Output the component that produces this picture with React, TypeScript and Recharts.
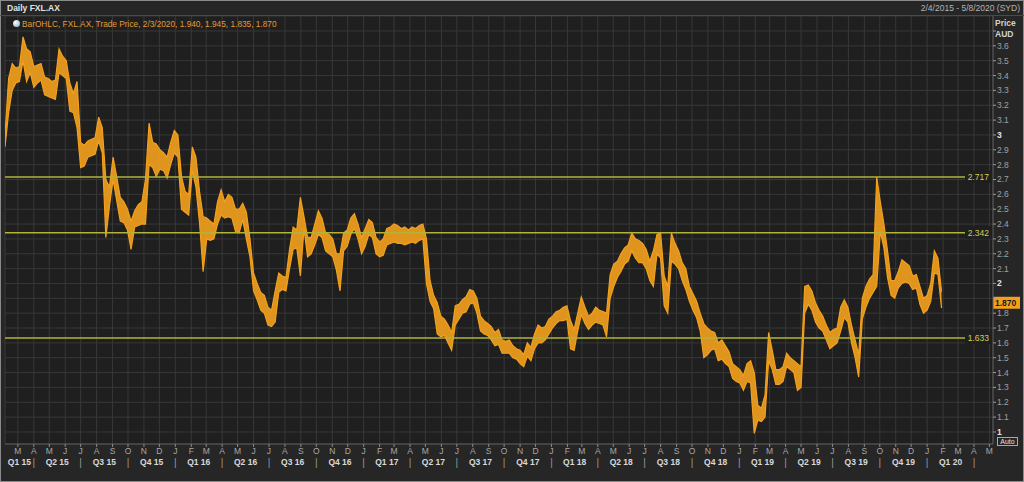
import React from 'react';
import { ComposedChart, Area, XAxis, YAxis, CartesianGrid, ReferenceLine } from 'recharts';

// weekly high / low of FXL.AX, first week starting 2015-02-04
const firstWeek = '2015-02-04';
const viewFrom = '2015-02-04';
const viewTo = '2020-05-08';

const weekHigh = [
  3.00, 3.38, 3.48, 3.45, 3.46, 3.66, 3.58, 3.56, 3.46, 3.47,
  3.48, 3.39, 3.38, 3.36, 3.37, 3.58, 3.53, 3.50, 3.35, 3.28,
  3.36, 2.95, 2.93, 2.96, 2.97, 2.98, 3.12, 3.05, 2.70, 2.65,
  2.85, 2.72, 2.58, 2.55, 2.50, 2.42, 2.49, 2.53, 2.55, 2.70,
  3.08, 2.95, 2.94, 2.90, 2.88, 2.85, 2.95, 3.03, 3.00, 2.72,
  2.62, 2.60, 2.92, 2.85, 2.62, 2.45, 2.44, 2.42, 2.40, 2.55,
  2.63, 2.55, 2.60, 2.58, 2.50, 2.50, 2.54, 2.48, 2.30, 2.07,
  2.00, 1.94, 1.92, 1.84, 1.82, 1.95, 2.07, 2.05, 2.04, 2.23,
  2.38, 2.36, 2.58, 2.45, 2.31, 2.31, 2.40, 2.49, 2.44, 2.34,
  2.33, 2.30, 2.20, 2.20, 2.34, 2.36, 2.44, 2.47, 2.40, 2.31,
  2.37, 2.43, 2.41, 2.31, 2.28, 2.30, 2.37, 2.38, 2.40, 2.39,
  2.37, 2.38, 2.36, 2.38, 2.37, 2.39, 2.40, 2.30, 2.02, 1.92,
  1.87, 1.78, 1.76, 1.72, 1.67, 1.85, 1.86, 1.89, 1.91, 1.96,
  1.95, 1.90, 1.78, 1.75, 1.73, 1.71, 1.67, 1.69, 1.62, 1.61,
  1.62, 1.58, 1.56, 1.55, 1.52, 1.60, 1.57, 1.66, 1.72, 1.70,
  1.71, 1.76, 1.78, 1.81, 1.82, 1.84, 1.85, 1.75, 1.69, 1.80,
  1.91, 1.84, 1.78, 1.80, 1.84, 1.82, 1.81, 1.80, 2.06, 2.13,
  2.15, 2.20, 2.24, 2.26, 2.34, 2.30, 2.29, 2.27, 2.23, 2.15,
  2.22, 2.33, 2.34, 2.05, 1.98, 2.34, 2.27, 2.22, 2.14, 2.10,
  1.98, 1.93, 1.88, 1.80, 1.73, 1.70, 1.68, 1.67, 1.60, 1.62,
  1.58, 1.54, 1.46, 1.44, 1.42, 1.38, 1.46, 1.48, 1.40, 1.18,
  1.16, 1.25, 1.67, 1.55, 1.42, 1.42, 1.44, 1.53, 1.50, 1.48,
  1.46, 1.44, 1.98, 1.99, 1.95, 1.87, 1.82, 1.78, 1.72, 1.67,
  1.69, 1.70, 1.84, 1.89, 1.84, 1.72, 1.62, 1.52, 1.90, 1.98,
  2.03, 2.06, 2.717, 2.55, 2.40, 2.22, 2.02, 2.02, 2.08, 2.16,
  2.14, 2.12, 2.05, 2.06, 1.98, 1.90, 1.92, 2.00, 2.22, 2.17,
  1.945,
];

const weekLow = [
  2.92, 3.15, 3.30, 3.35, 3.36, 3.50, 3.36, 3.42, 3.32, 3.35,
  3.37, 3.27, 3.26, 3.25, 3.24, 3.42, 3.40, 3.38, 3.16, 3.15,
  3.05, 2.78, 2.79, 2.85, 2.86, 2.87, 2.96, 2.88, 2.31, 2.52,
  2.70, 2.56, 2.42, 2.41, 2.36, 2.23, 2.38, 2.39, 2.40, 2.40,
  2.80, 2.78, 2.72, 2.77, 2.76, 2.71, 2.80, 2.88, 2.85, 2.50,
  2.48, 2.46, 2.76, 2.65, 2.41, 2.08, 2.30, 2.29, 2.30, 2.40,
  2.46, 2.44, 2.45, 2.44, 2.35, 2.34, 2.43, 2.30, 2.18, 1.95,
  1.89, 1.82, 1.80, 1.72, 1.71, 1.74, 1.94, 1.96, 1.95, 2.10,
  2.23, 2.24, 2.05, 2.37, 2.18, 2.20, 2.26, 2.33, 2.31, 2.22,
  2.20, 2.18, 2.09, 1.95, 2.22, 2.25, 2.33, 2.37, 2.30, 2.20,
  2.25, 2.33, 2.31, 2.20, 2.18, 2.19, 2.26, 2.27, 2.28, 2.27,
  2.27, 2.26, 2.27, 2.28, 2.27, 2.29, 2.30, 2.00, 1.88, 1.83,
  1.66, 1.64, 1.65, 1.60, 1.55, 1.72, 1.76, 1.80, 1.81, 1.86,
  1.87, 1.80, 1.68, 1.66, 1.65, 1.62, 1.58, 1.59, 1.53, 1.53,
  1.53, 1.50, 1.49, 1.46, 1.44, 1.51, 1.48, 1.56, 1.60, 1.60,
  1.62, 1.66, 1.70, 1.73, 1.75, 1.75, 1.76, 1.56, 1.55, 1.68,
  1.79, 1.73, 1.69, 1.72, 1.74, 1.73, 1.72, 1.64, 1.90, 1.98,
  2.04, 2.08, 2.13, 2.15, 2.22, 2.17, 2.14, 2.14, 2.10, 2.02,
  1.98, 2.20, 2.17, 1.85, 1.80, 2.15, 2.13, 2.10, 2.02, 1.96,
  1.88, 1.82, 1.77, 1.68, 1.50, 1.52, 1.55, 1.56, 1.48, 1.49,
  1.46, 1.44, 1.36, 1.34, 1.33, 1.28, 1.34, 1.33, 0.99, 1.08,
  1.07, 1.10, 1.48, 1.42, 1.32, 1.32, 1.34, 1.44, 1.42, 1.40,
  1.28, 1.30, 1.80, 1.86, 1.82, 1.74, 1.70, 1.68, 1.62, 1.56,
  1.58, 1.60, 1.68, 1.77, 1.74, 1.60, 1.50, 1.37, 1.76, 1.84,
  1.90, 1.94, 1.98, 2.35, 2.24, 2.04, 1.92, 1.90, 1.97, 2.00,
  2.01, 2.00, 1.96, 1.97, 1.86, 1.80, 1.82, 1.88, 2.07, 2.06,
  1.835,
];

const levels = [2.717, 2.342, 1.633];
const lastClose = 1.87;
const priceTicks = [1.0, 1.1, 1.2, 1.3, 1.4, 1.5, 1.6, 1.7, 1.8, 1.9, 2.0, 2.1, 2.2, 2.3, 2.4, 2.5, 2.6, 2.7, 2.8, 2.9, 3.0, 3.1, 3.2, 3.3, 3.4, 3.5, 3.6, 3.7];
const monthLetters = ['J', 'F', 'M', 'A', 'M', 'J', 'J', 'A', 'S', 'O', 'N', 'D'];

const DAY = 86400000;
const toDay = (iso: string) => Date.parse(iso + 'T00:00:00Z') / DAY;
const xDomain: [number, number] = [toDay(viewFrom), toDay(viewTo)];

const table = weekHigh.map((hi, i) => ({ d: toDay(firstWeek) + 7 * i, range: [weekLow[i], hi] }));

const monthTicks: number[] = [];
for (let y = 2015; y <= 2020; y++) {
  for (let m = 0; m < 12; m++) {
    const t = Date.UTC(y, m, 1) / DAY;
    if (t >= xDomain[0] && t <= xDomain[1]) monthTicks.push(t);
  }
}

const quarterMarks: { d: number; label: string }[] = [];
for (let y = 2015; y <= 2020; y++) {
  for (let q = 0; q < 4; q++) {
    const start = Date.UTC(y, q * 3, 1) / DAY;
    const end = Date.UTC(y, q * 3 + 3, 1) / DAY;
    if (start >= xDomain[0] && start <= xDomain[1]) quarterMarks.push({ d: start, label: '|' });
    const a = Math.max(start, xDomain[0]);
    const b = Math.min(end, xDomain[1]);
    if (b - a > 40) quarterMarks.push({ d: (a + b) / 2, label: `Q${q + 1} ${String(y).slice(2)}` });
  }
}

const FONT = '"Liberation Sans", Arial, sans-serif';
const ORANGE = '#f3a11d';

const MonthTick = (props: any) => {
  const { x, y, payload } = props;
  const m = new Date(payload.value * DAY).getUTCMonth();
  return (
    <text x={x} y={y} dy="0.71em" textAnchor="middle" fontSize={8.5} fill="#a6a6a6" fontFamily={FONT}>
      {monthLetters[m]}
    </text>
  );
};

const QuarterTick = (props: any) => {
  const { x, y, payload } = props;
  const mark = quarterMarks.find((q) => Math.abs(q.d - payload.value) < 0.01);
  if (!mark) return <g />;
  const sep = mark.label === '|';
  return (
    <text x={x} y={y} dy="0.71em" textAnchor="middle" fontSize={sep ? 10 : 8.5}
      fontWeight={sep ? 400 : 700} fill={sep ? '#9a9a9a' : '#d8d8d8'} fontFamily={FONT}>
      {mark.label}
    </text>
  );
};

const PriceTick = (props: any) => {
  const { x, y, payload } = props;
  const v = payload.value;
  if (v > 3.65 || Math.abs(v - lastClose) < 0.05) return <g />;
  const whole = Math.abs(v - Math.round(v)) < 1e-6;
  return (
    <text x={x} y={y} dy="0.35em" textAnchor="start" fontSize={8.5} fontFamily={FONT}
      fontWeight={whole ? 700 : 400} fill={whole ? '#e4e4e4' : '#a0a0a0'}>
      {whole ? String(Math.round(v)) : v.toFixed(1)}
    </text>
  );
};

const LevelTag = (props: any) => {
  const { viewBox, text } = props;
  const right = viewBox.x + viewBox.width;
  return (
    <g>
      <rect x={right - 28} y={viewBox.y - 6} width={28} height={12} fill="#1f1f1f" />
      <text x={right - 4} y={viewBox.y} dy="0.35em" textAnchor="end" fontSize={8.5} fill="#cfcf55" fontFamily={FONT}>
        {text}
      </text>
    </g>
  );
};

const LastTag = (props: any) => {
  const { viewBox } = props;
  const right = viewBox.x + viewBox.width;
  return (
    <g>
      <rect x={right} y={viewBox.y - 6} width={27} height={12} fill={ORANGE} />
      <text x={right + 2} y={viewBox.y} dy="0.35em" fontSize={8.5} fontWeight={700} fill="#1a1a1a" fontFamily={FONT}>
        {lastClose.toFixed(3)}
      </text>
    </g>
  );
};

export default function App() {
  return (
    <div style={{ position: 'absolute', left: 0, top: 0, width: 1024, height: 482, background: '#262626',
      overflow: 'hidden', fontFamily: FONT, boxShadow: 'inset 0 0 0 1px #8a8a8a' }}>
      <ComposedChart width={1024} height={482} data={table} margin={{ top: 16, right: 0, bottom: 0, left: 5 }}>
        <CartesianGrid xAxisId="m" yAxisId="p" stroke="#383838" fill="#1f1f1f" />
        <XAxis xAxisId="m" dataKey="d" type="number" domain={xDomain} ticks={monthTicks} interval={0}
          allowDataOverflow height={12} tickSize={3} tickMargin={1}
          axisLine={{ stroke: '#5a5a5a' }} tickLine={{ stroke: '#8a8a8a' }} tick={<MonthTick />} />
        <XAxis xAxisId="q" dataKey="d" type="number" domain={xDomain} ticks={quarterMarks.map((q) => q.d)}
          interval={0} allowDataOverflow height={26} tickSize={0} tickMargin={3}
          axisLine={false} tickLine={false} tick={<QuarterTick />} />
        <YAxis yAxisId="p" orientation="right" type="number" domain={[0.919, 3.801]} ticks={priceTicks}
          interval={0} allowDataOverflow width={31} tickSize={3} tickMargin={1}
          axisLine={{ stroke: '#5a5a5a' }} tickLine={{ stroke: '#9a9a9a' }} tick={<PriceTick />} />
        {levels.map((v) => (
          <ReferenceLine key={v} xAxisId="m" yAxisId="p" y={v} stroke="#b3b33a" strokeWidth={1.5}
            label={<LevelTag text={v.toFixed(3)} />} />
        ))}
        <Area xAxisId="m" yAxisId="p" dataKey="range" type="linear" fill={ORANGE} fillOpacity={0.9}
          stroke={ORANGE} strokeWidth={1.2} dot={false} activeDot={false} isAnimationActive={false} />
        <ReferenceLine xAxisId="m" yAxisId="p" y={lastClose} stroke="none" label={<LastTag />} />
      </ComposedChart>

      <div style={{ position: 'absolute', left: 0, top: 15, width: 1024, height: 1, background: '#4a4a4a' }} />
      <div style={{ position: 'absolute', left: 7, top: 3, fontSize: 8.5, fontWeight: 700, color: '#e2e2e2' }}>
        Daily FXL.AX
      </div>
      <div style={{ position: 'absolute', right: 4, top: 3, fontSize: 8.5, color: '#b4b4b4' }}>
        2/4/2015 - 5/8/2020 (SYD)
      </div>
      <div style={{ position: 'absolute', left: 13, top: 20, width: 7, height: 7, borderRadius: '50%',
        background: 'radial-gradient(circle at 35% 35%, #ffffff, #7fa6c8)' }} />
      <div style={{ position: 'absolute', left: 22, top: 18.5, fontSize: 8.3, color: '#e39a35' }}>
        BarOHLC, FXL.AX, Trade Price, 2/3/2020, 1.940, 1.945, 1.835, 1.870
      </div>
      <div style={{ position: 'absolute', left: 995, top: 18, fontSize: 8.5, fontWeight: 700, color: '#d0d0d0', lineHeight: '11px' }}>
        Price<br />AUD
      </div>
      <div style={{ position: 'absolute', left: 997, top: 437, width: 21, height: 9, boxSizing: 'border-box',
        border: '1px solid #a8a8a8', fontSize: 7, color: '#e0e0e0', lineHeight: '7px', textAlign: 'center' }}>
        Auto
      </div>
    </div>
  );
}
